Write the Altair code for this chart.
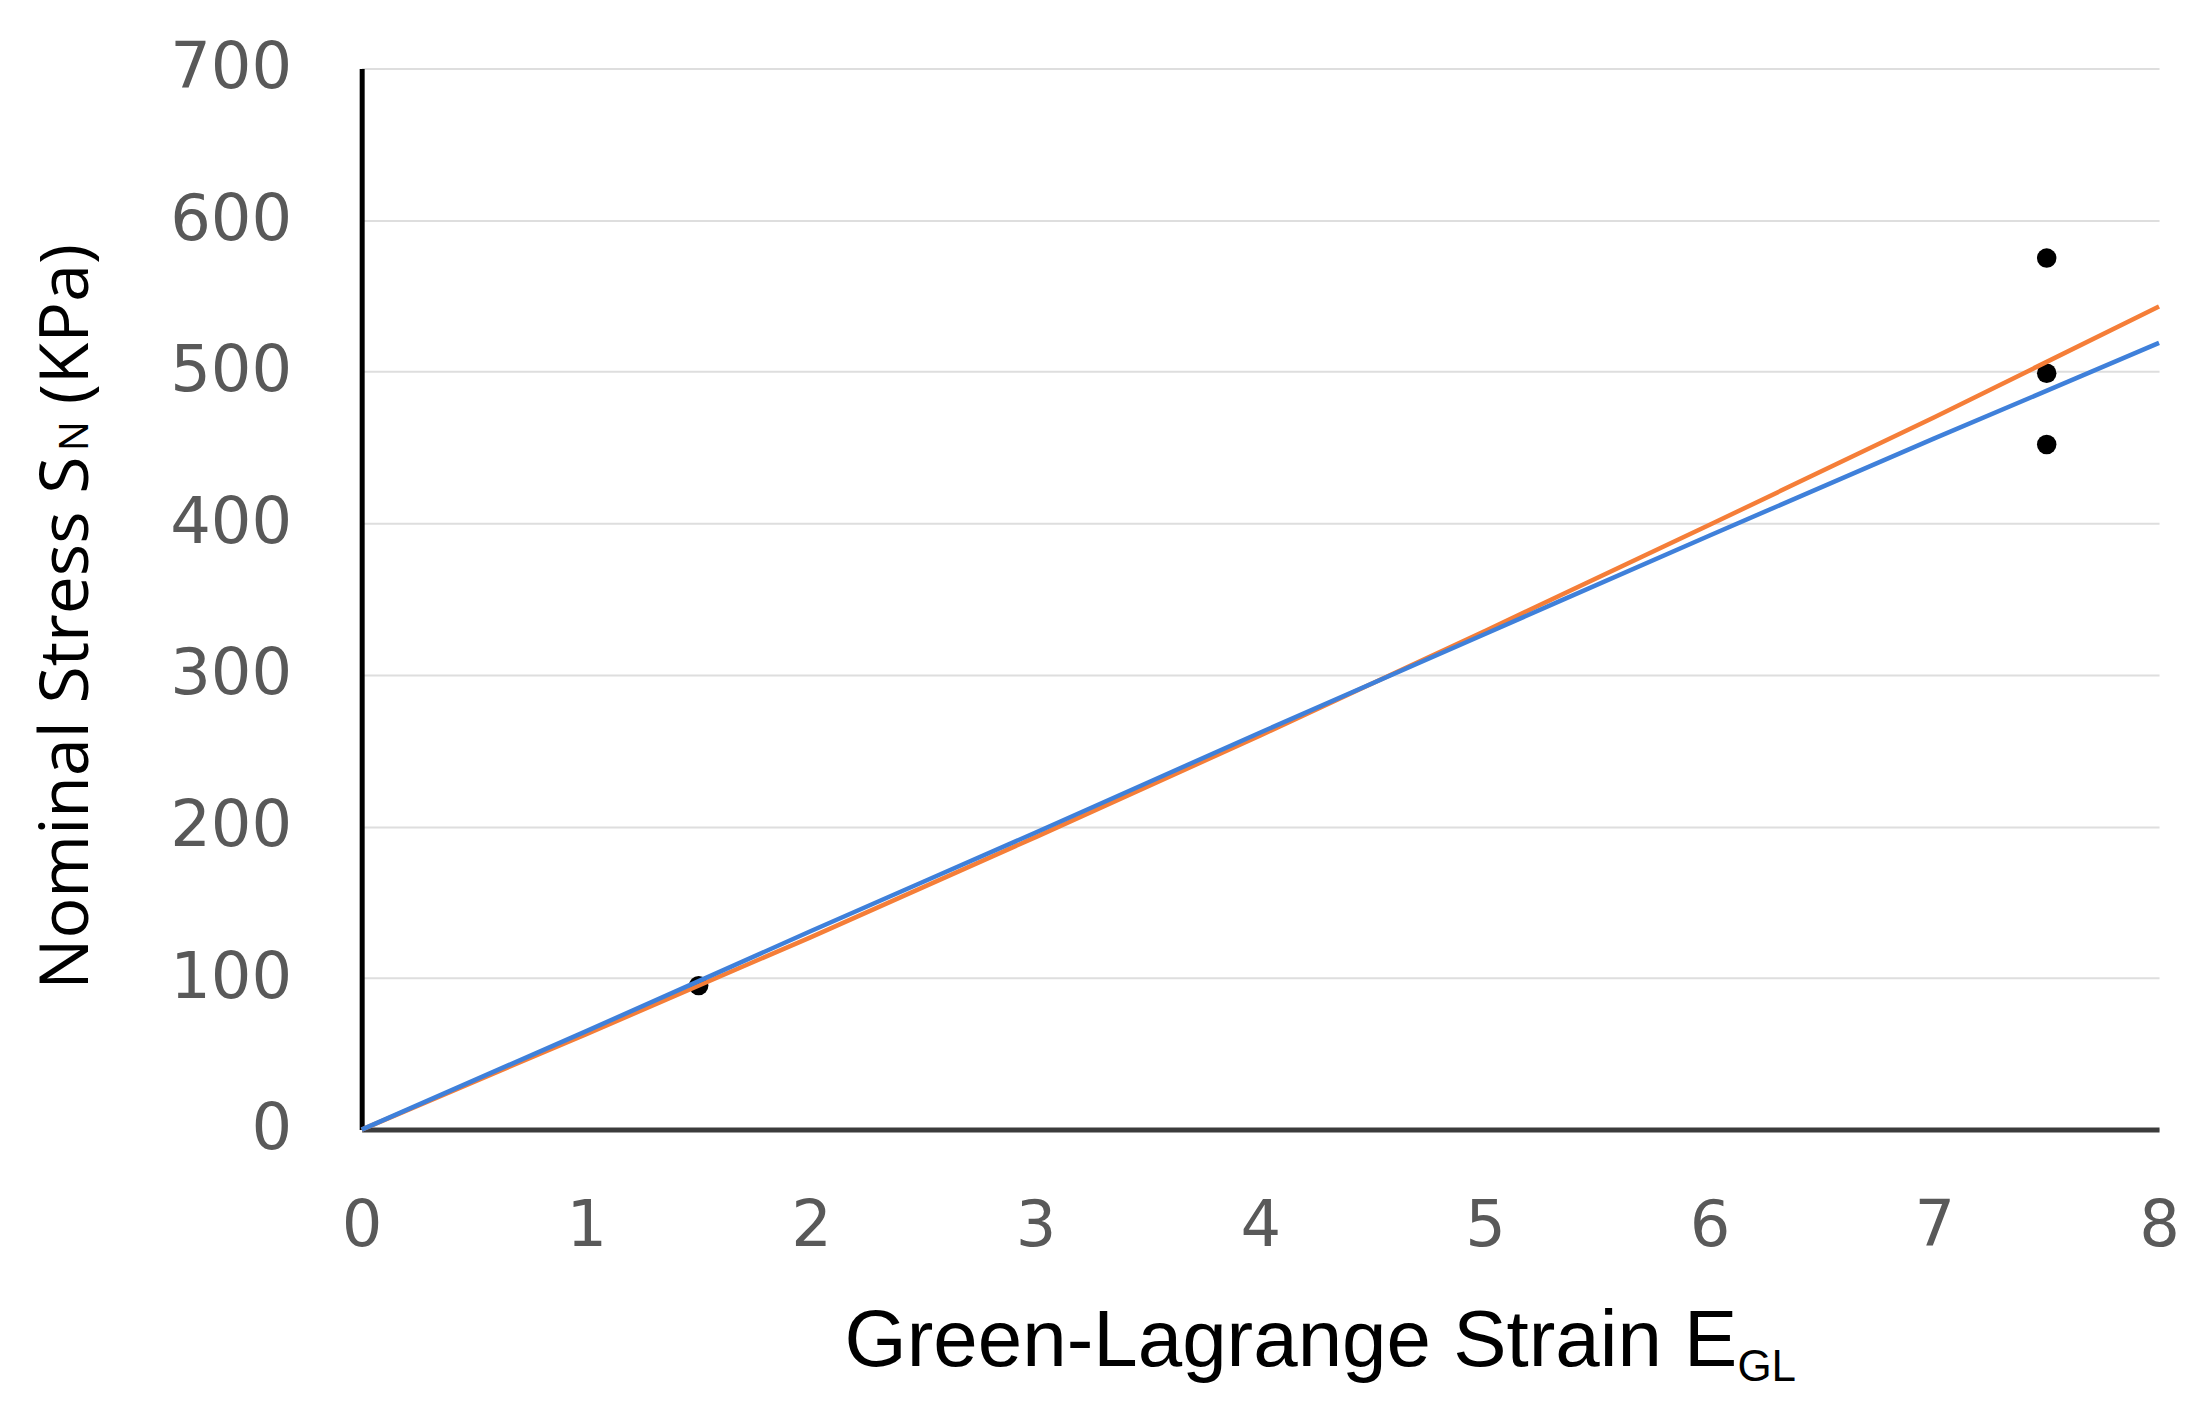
import altair as alt
import pandas as pd

# ---- data ----
strain_fit = [0, 1, 2, 3, 4, 5, 6, 7, 8]
stress_orange = [0, 63, 127, 193, 260, 329, 399, 470, 543]
stress_blue = [0, 65, 131, 196, 262, 327, 392, 456, 519]
strain_exp = [1.5, 7.5, 7.5, 7.5]
stress_exp = [95, 575, 499, 452]
x_ticks = [0, 1, 2, 3, 4, 5, 6, 7, 8]
y_ticks = [0, 100, 200, 300, 400, 500, 600, 700]

x_title_main = "Green-Lagrange Strain E"
x_title_sub = "GL"
y_title_main = "Nominal Stress S"
y_title_sub = "N"
y_title_unit = "(KPa)"

W, H = 1799, 1062

xs = alt.Scale(domain=[0, 8], nice=False, zero=True)
ys = alt.Scale(domain=[0, 700], nice=False, zero=True)

xa = alt.Axis(values=x_ticks, title=None, grid=False, ticks=False, tickSize=0,
              labelPadding=65, labelFlush=False, domainColor="#3c3c3c",
              domainWidth=5, format="d")
ya = alt.Axis(values=y_ticks, title=None, grid=True, gridColor="#dedede",
              gridWidth=2, ticks=False, tickSize=0, labelPadding=70,
              labelFlush=False, domainColor="#000000", domainWidth=5, format="d")

df_fit = pd.DataFrame({"x": strain_fit, "orange": stress_orange, "blue": stress_blue})
df_exp = pd.DataFrame({"x": strain_exp, "y": stress_exp})

pts = alt.Chart(df_exp).mark_circle(size=380, color="#000000", opacity=1).encode(
    x=alt.X("x:Q", scale=xs, axis=xa),
    y=alt.Y("y:Q", scale=ys, axis=ya),
)

line_orange = alt.Chart(df_fit).mark_line(
    color="#F57E38", strokeWidth=4.5, interpolate="monotone"
).encode(
    x=alt.X("x:Q", scale=xs, axis=xa),
    y=alt.Y("orange:Q", scale=ys, axis=ya),
)

line_blue = alt.Chart(df_fit).mark_line(
    color="#3F80DA", strokeWidth=4.5, interpolate="monotone"
).encode(
    x=alt.X("x:Q", scale=xs, axis=xa),
    y=alt.Y("blue:Q", scale=ys, axis=ya),
)


def label(text, font, size, align, x, y, angle=0):
    mk = dict(font=font, fontSize=size, align=align, baseline="alphabetic",
              color="#000000")
    if angle:
        mk["angle"] = angle
    return alt.Chart(pd.DataFrame({"t": [text]})).mark_text(**mk).encode(
        x=alt.value(x), y=alt.value(y), text="t:N")


xt_main = label(x_title_main, "Liberation Sans", 80, "right", 1377, 1299)
xt_sub = label(x_title_sub, "Liberation Sans", 44, "left", 1377, 1314)

yt_main = label(y_title_main, "Open Sans", 68, "left", -274, 922, angle=270)
yt_sub = label(y_title_sub, "Open Sans", 40, "left", -274, 383, angle=270)
yt_unit = label(y_title_unit, "Open Sans", 68, "left", -274, 336, angle=270)

chart = alt.layer(
    pts, line_orange, line_blue, xt_main, xt_sub, yt_main, yt_sub, yt_unit
).properties(
    width=W, height=H,
    autosize=alt.AutoSizeParams(type="none"),
    padding={"left": 354, "top": 60, "right": 40, "bottom": 281},
).configure_view(stroke=None).configure_axis(
    labelFont="DejaVu Sans", labelFontSize=64, labelColor="#595959"
)

chart.save("out.html", embed_options={"renderer": "svg", "actions": False})
